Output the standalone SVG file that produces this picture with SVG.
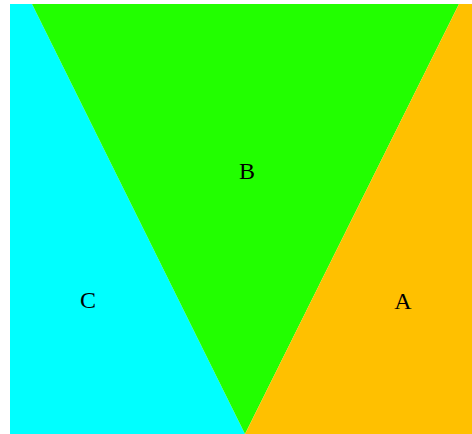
<svg xmlns="http://www.w3.org/2000/svg" width="472" height="434" viewBox="0 0 472 434">
<style>
.lbl{font-family:"Liberation Serif","Times New Roman",serif;font-size:24px;fill:#000;text-anchor:middle}
</style>
<rect width="472" height="434" fill="#fff"/>
<g id="C"><polygon points="10,4 32,4 245,434 10,434" fill="#00FFFF"/><text class="lbl" x="88" y="308">C</text></g>
<g id="B"><polygon points="32,4 459,4 245,434" fill="#22FF00"/><text class="lbl" x="247" y="179">B</text></g>
<g id="A"><polygon points="459,4 472,4 472,434 245,434" fill="#FFC000"/><text class="lbl" x="403" y="309">A</text></g>
<g id="connectors"/>
</svg>
